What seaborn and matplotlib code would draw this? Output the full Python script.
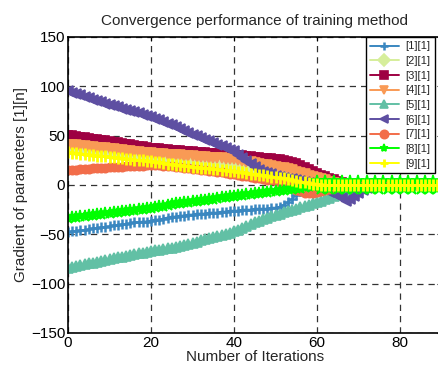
import numpy as np
import pandas as pd
import matplotlib
matplotlib.use("Agg")
import matplotlib.pyplot as plt
import seaborn as sns

iterations = list(range(90))

s1 = [-48, -47, -47, -46, -46, -45, -44, -44, -43, -43,
      -42, -41, -41, -40, -40, -39, -38, -38, -37, -37,
      -36, -35, -35, -34, -33, -32, -32, -31, -31, -30,
      -30, -29, -29, -29, -28, -28, -28, -27, -27, -26,
      -26, -26, -25, -25, -25, -24, -24, -24, -24, -23,
      -23, -22, -20, -17, -14, -10, -6, -4, -2, -1] + [0] * 30

s2 = [36, 35.6, 35.2, 34.8, 34.4, 34, 33.6, 33.2, 32.8, 32.4,
      32, 31.6, 31.2, 30.8, 30.4, 30, 29.6, 29.2, 28.8, 28.4,
      28, 27.5, 27.1, 26.6, 26.2, 25.8, 25.3, 24.8, 24.4, 23.9,
      23.5, 23, 22.6, 22.1, 21.7, 21.3, 20.8, 20.4, 19.9, 19.5,
      19, 18.4, 17.8, 17.2, 16.5, 15.9, 15.3, 14.7, 14.1, 13.5,
      12.8, 12.2, 11.6, 11, 9.5, 8, 6.5, 5, 3.5, 2.2,
      1.2, 0.5] + [0] * 28

s3 = [51, 50.4, 49.7, 49.1, 48.4, 47.8, 47.1, 46.5, 45.8, 45.2,
      44.5, 43.9, 43.2, 42.6, 41.9, 41.3, 40.6, 40, 39.3, 38.7,
      38, 37.6, 37.1, 36.7, 36.3, 35.9, 35.4, 35, 34.7, 34.4,
      34.1, 33.8, 33.5, 33.2, 32.8, 32.5, 32.2, 31.9, 31.6, 31.3,
      31, 30.5, 30.1, 29.6, 29.2, 28.7, 28.3, 27.8, 27.4, 26.9,
      26.5, 26, 25, 24, 23, 22, 20, 18, 16, 14,
      12, 10.4, 8.8, 7.2, 5.6, 4, 2.7, 1.3, 0, 0] + [0] * 20

s4 = [41, 40.6, 40.1, 39.7, 39.2, 38.8, 38.3, 37.9, 37.4, 37,
      36.5, 36.1, 35.6, 35.2, 34.7, 34.3, 33.8, 33.4, 32.9, 32.5,
      32, 31.7, 31.4, 31.1, 30.8, 30.5, 30.2, 29.9, 29.6, 29.3,
      29, 28.7, 28.4, 28.1, 27.8, 27.5, 27.2, 26.9, 26.6, 26.3,
      26, 25.2, 24.5, 23.7, 22.9, 22.2, 21.4, 20.6, 19.8, 19.1,
      18.3, 17.5, 16.8, 16, 14.7, 13.4, 12.1, 10.9, 9.6, 8.3,
      7, 5.8, 4.6, 3.4, 2.2, 1, 0.5, 0, 0, 0] + [0] * 20

s5 = [-84, -83.1, -82.2, -81.3, -80.4, -79.5, -78.6, -77.7, -76.8, -75.9,
      -75, -74.2, -73.4, -72.6, -71.8, -71, -70.2, -69.4, -68.6, -67.8,
      -67, -66.3, -65.6, -64.9, -64.1, -63.4, -62.7, -62, -60.8, -59.7,
      -58.5, -57.4, -56.2, -55.1, -53.9, -52.8, -51.6, -50.5, -49.3, -48.2,
      -47, -45.2, -43.3, -41.5, -39.7, -37.8, -36, -34.6, -33.2, -31.8,
      -30.4, -29, -27.7, -26.4, -25.1, -23.9, -22.6, -21.3, -20, -18.6,
      -17.2, -15.8, -14.4, -13, -11.4, -9.8, -8.2, -6.6, -5, -3.8,
      -2.5, -1.2] + [0] * 18

s6 = [95, 93.6, 92.2, 90.8, 89.4, 88, 86.6, 85.2, 83.8, 82.4,
      81, 79.8, 78.6, 77.4, 76.2, 75, 73.8, 72.6, 71.4, 70.2,
      69, 67.3, 65.7, 64, 62.3, 60.7, 59, 57, 55, 53,
      51, 49.3, 47.6, 45.9, 44.2, 42.5, 40.8, 39.1, 37.4, 35.7,
      34, 30.8, 27.7, 24.5, 21.3, 18.2, 15, 13.6, 12.2, 10.8,
      9.4, 8, 7.3, 6.5, 5.8, 5, 4, 3, 2, 1,
      0, -2, -4, -7, -9, -11, -13, -16, -14, -11,
      -8, -5, -3, -1] + [0] * 16

s7 = [15, 15.3, 15.6, 15.9, 16.2, 16.5, 16.8, 17.1, 17.4, 17.7,
      18, 18.2, 18.4, 18.6, 18.8, 19, 19.2, 19.4, 19.6, 19.8,
      20, 20, 20, 19.6, 19.2, 18.8, 18.4, 18, 17.4, 16.9,
      16.4, 15.9, 15.3, 14.8, 14.3, 13.8, 13.2, 12.7, 12.2, 11.6,
      11, 10.3, 9.6, 8.9, 8.2, 7.5, 6.8, 6.1, 5.4, 4.7,
      4, 3, 2, 1, -2, -5, -6.5, -8, -8, -8,
      -7, -6, -5, -4, -3, -2, -1.3, -0.7, 0, 0] + [0] * 20

s8 = [-33, -32.5, -32, -31.5, -31, -30.5, -30, -29.5, -29, -28.5,
      -28, -27.5, -27, -26.5, -26, -25.5, -25, -24.5, -24, -23.5,
      -23, -22.3, -21.6, -20.9, -20.1, -19.4, -18.7, -18, -17.5, -16.9,
      -16.4, -15.8, -15.3, -14.8, -14.2, -13.7, -13.2, -12.6, -12.1, -11.5,
      -11, -10.5, -10, -9.5, -9, -8.5, -8, -7.5, -7, -6.5,
      -6, -5.5, -5, -4.5, -4, -3.5, -3, -2.2, -1.5, -0.7,
      4, -4, 4, -4, 4, -4, 4, -4, 4, -4,
      4, -4, 4, -4, 4, -4, 4, -4, 4, -4,
      4, -4, 4, -4, 4, -4, 4, -4, 4, -4]

s9 = [33, 32.5, 32.1, 31.6, 31.2, 30.7, 30.3, 29.8, 29.4, 28.9,
      28.5, 28, 27.6, 27.1, 26.7, 26.2, 25.8, 25.3, 24.9, 24.4,
      24, 23.4, 22.9, 22.3, 21.7, 21.1, 20.6, 20, 19.5, 19.1,
      18.6, 18.2, 17.7, 17.2, 16.8, 16.3, 15.8, 15.4, 14.9, 14.5,
      14, 13.4, 12.8, 12.2, 11.5, 10.9, 10.3, 9.7, 9.1, 8.5,
      7.8, 7.2, 6.6, 6, 5.2, 4.3, 3.5, 2.6, 1.8, 1.1,
      0.6, 0.3] + [0] * 28

labels = ["[1][1]", "[2][1]", "[3][1]", "[4][1]", "[5][1]",
          "[6][1]", "[7][1]", "[8][1]", "[9][1]"]
series = [s1, s2, s3, s4, s5, s6, s7, s8, s9]
colors = ["#3a87c0", "#d6ee9b", "#9e0142", "#f99a55", "#62c0a5",
          "#5e4fa2", "#f26d4a", "#00ff00", "#ffff00"]
markers = ["+", "D", "s", "v", "^", "<", "o", "*", "+"]
msizes = [7, 5, 6, 7, 7, 7.5, 6, 9, 8]
mews = [1.8, 1.2, 1.2, 1.2, 1.2, 1.2, 1.2, 1.2, 2.0]

sns.set_style("white")
plt.rcParams["font.family"] = ["Liberation Sans", "DejaVu Sans"]

fig = plt.figure(figsize=(4.39, 3.72), dpi=100)
ax = fig.add_axes([68 / 439, 1 - 333 / 372, (441.5 - 68) / 439, (333 - 37) / 372])

for lab, ys, c, m, ms, mw in zip(labels, series, colors, markers, msizes, mews):
    df = pd.DataFrame({"it": iterations, "val": ys})
    sns.lineplot(data=df, x="it", y="val", color=c, marker=m, markersize=ms,
                 markeredgecolor=c, markerfacecolor=c, markeredgewidth=mw,
                 linewidth=1.4, label=lab, ax=ax)

ax.set_xlim(0, 90)
ax.set_ylim(-150, 150)
ax.set_xticks([0, 20, 40, 60, 80])
ax.set_yticks([-150, -100, -50, 0, 50, 100, 150])
ax.grid(True, color="#333333", linestyle=(0, (5, 4)), linewidth=0.9)
for sp in ax.spines.values():
    sp.set_color("black")
    sp.set_linewidth(1.2)
ax.tick_params(direction="in", top=True, right=True, length=3, labelsize=11,
               pad=2, colors="black")
ax.set_xlabel("Number of Iterations", fontsize=11, labelpad=0)
ax.set_ylabel("Gradient of parameters [1][n]", fontsize=11, labelpad=2)
ax.set_title("Convergence performance of training method", fontsize=11, pad=9)

leg = ax.legend(loc="upper right", bbox_to_anchor=(435 / 439, 1 - 37 / 372),
                bbox_transform=fig.transFigure, fontsize=8, frameon=True,
                fancybox=False, edgecolor="black", framealpha=1,
                handlelength=2.6, labelspacing=0.42, borderpad=0.4,
                handletextpad=0.6, borderaxespad=0)
leg.get_frame().set_linewidth(1.0)
for h in leg.legend_handles:
    h.set_markersize(6)

fig.savefig("out.png", dpi=100)
